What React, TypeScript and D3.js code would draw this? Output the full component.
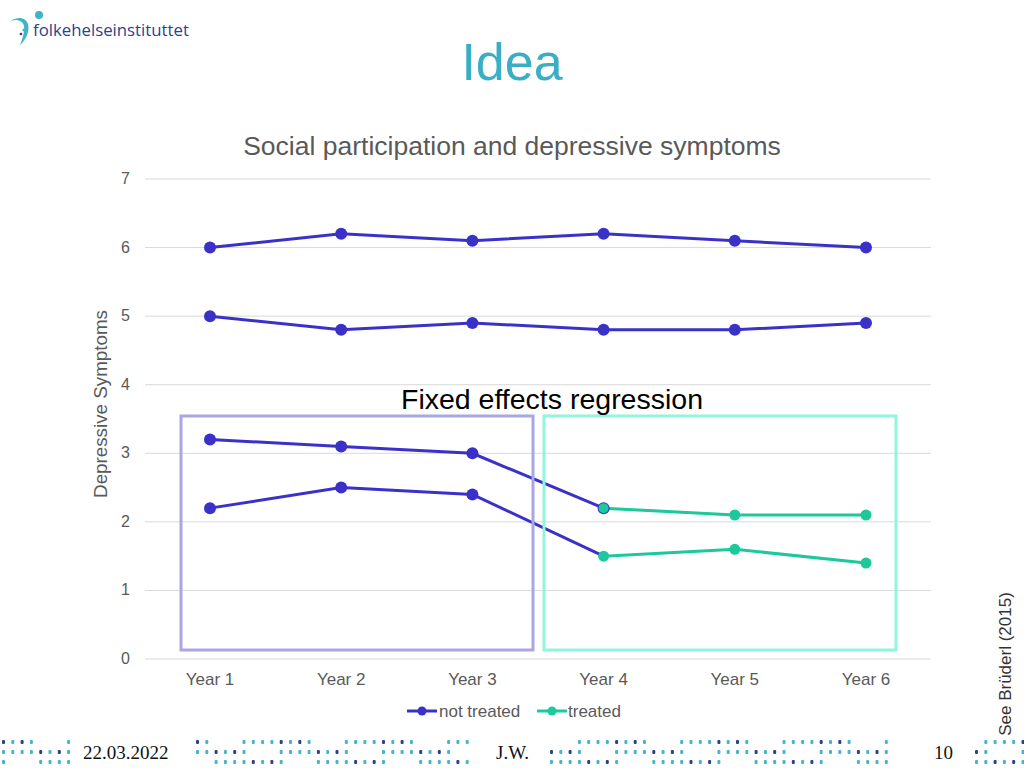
import React from "react";
import * as d3 from "d3";

const years = ["Year 1", "Year 2", "Year 3", "Year 4", "Year 5", "Year 6"];
const yTicks = [0, 1, 2, 3, 4, 5, 6, 7];

const seriesA = [6.0, 6.2, 6.1, 6.2, 6.1, 6.0];
const seriesB = [5.0, 4.8, 4.9, 4.8, 4.8, 4.9];
const seriesCNot = [3.2, 3.1, 3.0, 2.2, null, null];
const seriesCTreated = [null, null, null, 2.2, 2.1, 2.1];
const seriesDNot = [2.2, 2.5, 2.4, 1.5, null, null];
const seriesDTreated = [null, null, null, 1.5, 1.6, 1.4];

const notTreatedLines = [seriesA, seriesB, seriesCNot, seriesDNot];
const treatedLines = [seriesCTreated, seriesDTreated];
const legendLabels = ["not treated", "treated"];

const BLUE = "#3a32c8";
const GREEN = "#1cc89c";

const footerSegments: [number, number][] = [
  [2, 70],
  [196, 468],
  [550, 890],
  [975, 1024],
];

export default function App() {
  const x = d3.scalePoint<string>().domain(years).range([210, 866]);
  const y = d3.scaleLinear().domain([0, 7]).range([659, 179]);
  const line = d3
    .line<number | null>()
    .defined((d) => d !== null)
    .x((_, i) => x(years[i]) as number)
    .y((d) => y(d as number));

  const dots: JSX.Element[] = [];
  footerSegments.forEach(([a, b], s) => {
    for (let r = 0; r < 3; r++) {
      let k = 0;
      for (let px = a; px < b; px += 9.3) {
        const v = (k * 7 + r * 5 + s * 3) % 11;
        k++;
        if (v === 2 || v === 6 || v === 9) continue;
        const col = v % 3 === 0 ? "#2d3f8f" : "#45b6c7";
        dots.push(
          <rect
            key={`d${s}-${r}-${k}`}
            x={px}
            y={740 + r * 10}
            width={3}
            height={4}
            fill={col}
            rx={1}
          />
        );
      }
    }
  });

  return (
    <svg width={1024} height={768} style={{ position: "absolute", left: 0, top: 0 }} fontFamily="Liberation Sans, Arial, sans-serif">
      <rect width={1024} height={768} fill="#fff" />
      {/* logo */}
      <g>
        <path d="M7,24 C13,18 22,19 24,26 C25,32 22,40 20,45 C26,40 30,31 28,24 C25,16 15,16 7,24 Z" fill="#3fb4c6" />
        <circle cx={39} cy={15} r={4} fill="#3fb4c6" />
        <circle cx={24} cy={30} r={1.6} fill="#3fb4c6" />
        <circle cx={21} cy={34} r={1.3} fill="#2d3f8f" />
        <text x={33} y={36} fontSize={16.8} fill="#2d3f8f" fontFamily="Open Sans, sans-serif">folkehelseinstituttet</text>
      </g>
      <text x={512} y={80} textAnchor="middle" fontSize={52} fill="#3aaec4">Idea</text>

      <text x={512} y={155} textAnchor="middle" fontSize={26.5} fill="#595959">
        Social participation and depressive symptoms
      </text>

      {yTicks.map((t) => (
        <g key={t}>
          <line x1={145} x2={931} y1={y(t)} y2={y(t)} stroke="#d9d9d9" strokeWidth={1} />
          <text x={130} y={y(t) + 5} textAnchor="end" fontSize={16} fill="#595959">{t}</text>
        </g>
      ))}
      {years.map((yr) => (
        <text key={yr} x={x(yr)} y={685} textAnchor="middle" fontSize={17} fill="#595959">{yr}</text>
      ))}
      <text transform={`translate(107,404) rotate(-90)`} textAnchor="middle" fontSize={18.8} fill="#595959">
        Depressive Symptoms
      </text>

      {notTreatedLines.map((s, i) => (
        <path key={`n${i}`} d={line(s) || ""} fill="none" stroke={BLUE} strokeWidth={3} />
      ))}
      {treatedLines.map((s, i) => (
        <path key={`t${i}`} d={line(s) || ""} fill="none" stroke={GREEN} strokeWidth={3} />
      ))}
      {notTreatedLines.map((s, i) =>
        s.map((v, j) =>
          v === null || (i === 3 && j === 3) ? null : (
            <circle key={`nc${i}-${j}`} cx={x(years[j])} cy={y(v)} r={6} fill={BLUE} />
          )
        )
      )}
      {treatedLines.map((s, i) =>
        s.map((v, j) =>
          v === null ? null : (
            <circle key={`tc${i}-${j}`} cx={x(years[j])} cy={y(v)} r={i === 0 && j === 3 ? 5 : 5.5} fill={GREEN} />
          )
        )
      )}

      <rect x={181} y={416} width={352} height={234} fill="none" stroke="#aaa6e6" strokeWidth={3} />
      <rect x={544} y={416} width={352} height={234} fill="none" stroke="#8ff5dc" strokeWidth={3} />
      <text x={552} y={409} textAnchor="middle" fontSize={28.5} fill="#000">Fixed effects regression</text>

      <g>
        <line x1={407} x2={437} y1={711} y2={711} stroke={BLUE} strokeWidth={3} />
        <circle cx={422} cy={711} r={4.5} fill={BLUE} />
        <text x={439} y={717} fontSize={17} fill="#595959">{legendLabels[0]}</text>
        <line x1={537} x2={567} y1={711} y2={711} stroke={GREEN} strokeWidth={3} />
        <circle cx={552} cy={711} r={4.5} fill={GREEN} />
        <text x={568} y={717} fontSize={17} fill="#595959">{legendLabels[1]}</text>
      </g>

      <text transform={`translate(1011,664) rotate(-90)`} textAnchor="middle" fontSize={17} fill="#333">
        See Brüderl (2015)
      </text>

      {dots}
      <text x={83} y={759} fontSize={19} fontFamily="Liberation Serif, serif" fill="#111">22.03.2022</text>
      <text x={496} y={759} fontSize={19} fontFamily="Liberation Serif, serif" fill="#111">J.W.</text>
      <text x={934} y={759} fontSize={19} fontFamily="Liberation Serif, serif" fill="#111">10</text>
    </svg>
  );
}
